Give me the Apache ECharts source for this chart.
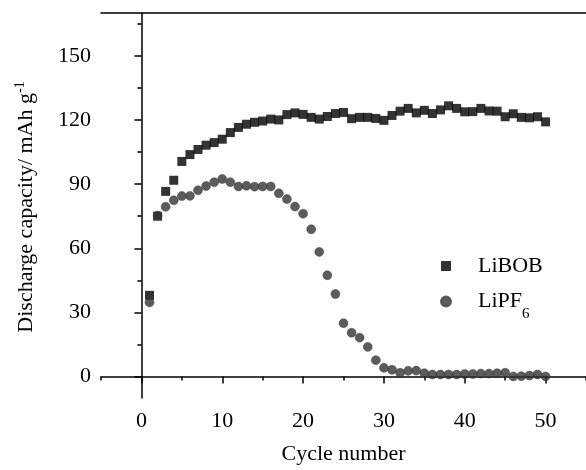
<!DOCTYPE html>
<html>
<head>
<meta charset="utf-8">
<script src="https://cdn.jsdelivr.net/npm/echarts@6/dist/echarts.min.js"></script>
<style>html,body{margin:0;padding:0;background:#fff;}#c{width:586px;height:470px;}</style>
</head>
<body>
<div id="c"></div>
<script>
var cycles = [];
for (var i = 1; i <= 50; i++) cycles.push(i);
var libob = [38, 75, 86.6, 91.8, 100.6, 103.8, 106.2, 108.2, 109.4, 111,
  114.1, 116.5, 118, 118.9, 119.5, 120.4, 120, 122.5, 123.3, 122.6,
  121.2, 120.4, 121.6, 123, 123.5, 120.6, 121.2, 121.2, 120.7, 119.8,
  122.1, 124.1, 125.4, 123.3, 124.5, 123, 124.7, 126.6, 125.4, 123.8,
  123.9, 125.4, 124.2, 124.1, 121.5, 122.9, 121.2, 121, 121.5, 119.1];
var lipf6 = [34.7, 75.3, 79.4, 82.4, 84.4, 84.5, 87.1, 89.1, 90.9, 92.4,
  90.9, 88.9, 89.2, 88.8, 88.9, 88.9, 85.7, 83, 79.5, 76.2,
  68.9, 58.3, 47.4, 38.6, 25, 20.5, 18.2, 13.9, 7.7, 4.1,
  3.2, 1.8, 2.7, 2.8, 1.6, 1.0, 1.0, 1.0, 1.0, 1.2,
  1.2, 1.4, 1.4, 1.6, 1.8, 0.1, 0.2, 0.5, 1.0, 0.1];
var xMajor = [0, 10, 20, 30, 40, 50];
var xMinor = [-5, 5, 15, 25, 35, 45, 55];
var yMajor = [0, 30, 60, 90, 120, 150];
var yMinor = [15, 45, 75, 105, 135, 165];

var FONT = 'Liberation Serif';
function pairs(arr) { return cycles.map(function (c, i) { return [c, arr[i]]; }); }
var axisLine = { show: true, lineStyle: { color: '#000', width: 1.5 } };

var chart = echarts.init(document.getElementById('c'), null, { renderer: 'canvas' });
chart.setOption({
  animation: false,
  backgroundColor: '#fff',
  grid: { left: 101, top: 13, width: 486, height: 396, containLabel: false },
  xAxis: [
    { type: 'value', position: 'bottom', min: -5, max: 55,
      axisLine: axisLine, splitLine: { show: false },
      axisTick: { show: true, customValues: xMajor, length: 7, lineStyle: { color: '#000', width: 1.5 } },
      axisLabel: { customValues: xMajor, margin: 12, color: '#000', fontFamily: FONT, fontSize: 22 },
      name: 'Cycle number', nameLocation: 'middle', nameGap: 45,
      nameTextStyle: { color: '#000', fontFamily: FONT, fontSize: 22 } },
    { type: 'value', position: 'bottom', min: -5, max: 55,
      axisLine: { show: false }, splitLine: { show: false },
      axisTick: { show: true, customValues: xMinor, length: 4, lineStyle: { color: '#000', width: 1.5 } },
      axisLabel: { show: false } },
    { type: 'value', position: 'top', min: -5, max: 55,
      axisLine: axisLine, splitLine: { show: false },
      axisTick: { show: false }, axisLabel: { show: false } }
  ],
  yAxis: [
    { type: 'value', position: 'left', min: -10, max: 170,
      axisLine: axisLine, splitLine: { show: false },
      axisTick: { show: true, customValues: yMajor, length: 7, lineStyle: { color: '#000', width: 1.5 } },
      axisLabel: { customValues: yMajor, margin: 10, color: '#000', fontFamily: FONT, fontSize: 22 } },
    { type: 'value', position: 'left', min: -10, max: 170,
      axisLine: { show: false }, splitLine: { show: false },
      axisTick: { show: true, customValues: yMinor, length: 4, lineStyle: { color: '#000', width: 1.5 } },
      axisLabel: { show: false } }
  ],
  legend: {
    orient: 'vertical', left: 435, top: 250, itemWidth: 10, itemHeight: 10, itemGap: 4,
    data: [
      { name: 'LiBOB', icon: 'rect' },
      { name: 'LiPF6', icon: 'circle' }
    ],
    formatter: function (n) { return n === 'LiPF6' ? '{m|LiPF}{s|6}' : '{m|LiBOB}'; },
    textStyle: {
      color: '#000', fontFamily: FONT, fontSize: 22, padding: [0, 0, 0, 22],
      rich: {
        m: { fontFamily: FONT, fontSize: 22, color: '#000', lineHeight: 24 },
        s: { fontFamily: FONT, fontSize: 15, color: '#000', lineHeight: 15, padding: [26, 0, 0, 0] }
      }
    }
  },
  graphic: [{
    type: 'text', x: 26, y: 207, rotation: Math.PI / 2,
    style: {
      text: '{a|Discharge capacity/ mAh g}{s|-1}',
      align: 'center', verticalAlign: 'middle',
      rich: {
        a: { fontFamily: FONT, fontSize: 22, fill: '#000' },
        s: { fontFamily: FONT, fontSize: 14, fill: '#000', padding: [0, 0, 12, 0] }
      }
    }
  }],
  series: [
    { name: 'LiBOB', type: 'scatter', xAxisIndex: 0, yAxisIndex: 0, symbol: 'rect', symbolSize: 9,
      itemStyle: { color: '#000' }, data: pairs(libob) },
    { name: 'LiPF6', type: 'scatter', xAxisIndex: 0, yAxisIndex: 0, symbol: 'circle', symbolSize: 9,
      itemStyle: { color: '#333', borderColor: '#444', borderWidth: 0.6 }, data: pairs(lipf6) }
  ]
});
</script>
</body>
</html>
